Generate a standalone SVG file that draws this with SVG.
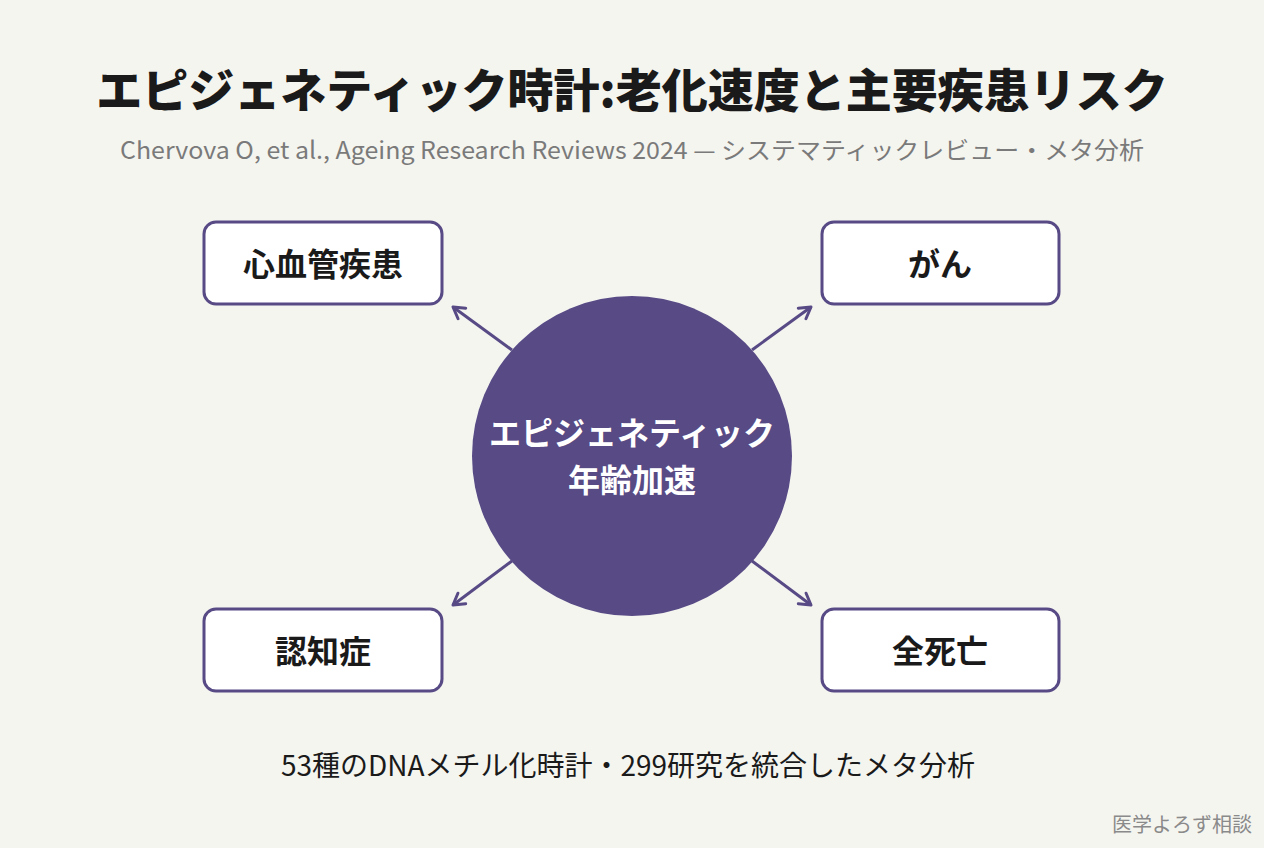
<svg xmlns="http://www.w3.org/2000/svg" width="1264" height="848" viewBox="0 0 1264 848">
<style>
text{font-family:"Noto Sans CJK JP","Noto Sans",sans-serif}
.box{fill:#ffffff;stroke:#574a85;stroke-width:3}
.lbl{font-size:32px;font-weight:700;fill:#1a1a1a;text-anchor:middle}
.conn{stroke:#574a85;stroke-width:3;fill:none}
</style>
<defs>
<marker id="ah" viewBox="0 0 16 16" refX="14" refY="8" markerWidth="16" markerHeight="16" markerUnits="userSpaceOnUse" orient="auto" overflow="visible">
<path d="M3,1.5 L14,8 L3,14.5" fill="none" stroke="#574a85" stroke-width="3" stroke-linecap="round" stroke-linejoin="round"/>
</marker>
</defs>
<rect width="1264" height="848" fill="#f5f5f0"/>
<text x="632" y="107" font-size="46" font-weight="900" fill="#1a1a1a" text-anchor="middle">エピジェネティック時計:老化速度と主要疾患リスク</text>
<text x="632" y="159" font-size="24" fill="#7a7a7a" text-anchor="middle" textLength="1024" lengthAdjust="spacingAndGlyphs">Chervova O, et al., Ageing Research Reviews 2024 — システマティックレビュー・メタ分析</text>
<g id="connectors">
<line class="conn" x1="512" y1="350" x2="453" y2="307" marker-end="url(#ah)"/>
<line class="conn" x1="752" y1="350" x2="811" y2="307" marker-end="url(#ah)"/>
<line class="conn" x1="512" y1="561" x2="453" y2="605" marker-end="url(#ah)"/>
<line class="conn" x1="752" y1="561" x2="811" y2="605" marker-end="url(#ah)"/>
</g>
<g id="center">
<circle cx="632" cy="456" r="160" fill="#574a85"/>
<text x="632" y="445" font-size="32" font-weight="700" fill="#ffffff" text-anchor="middle">エピジェネティック</text>
<text x="632" y="492" font-size="32" font-weight="700" fill="#ffffff" text-anchor="middle">年齢加速</text>
</g>
<g id="cvd">
<rect class="box" x="204" y="222" width="238" height="82" rx="12"/>
<text class="lbl" x="323" y="276">心血管疾患</text>
</g>
<g id="cancer">
<rect class="box" x="822" y="222" width="237" height="82" rx="12"/>
<text class="lbl" x="940" y="276">がん</text>
</g>
<g id="dementia">
<rect class="box" x="204" y="609" width="238" height="82" rx="12"/>
<text class="lbl" x="323" y="663">認知症</text>
</g>
<g id="mortality">
<rect class="box" x="822" y="609" width="237" height="82" rx="12"/>
<text class="lbl" x="940" y="663">全死亡</text>
</g>
<text x="628" y="776" font-size="28" fill="#1a1a1a" text-anchor="middle">53種のDNAメチル化時計・299研究を統合したメタ分析</text>
<text x="1252" y="832" font-size="20" fill="#8a8a8a" text-anchor="end">医学よろず相談</text>
</svg>
